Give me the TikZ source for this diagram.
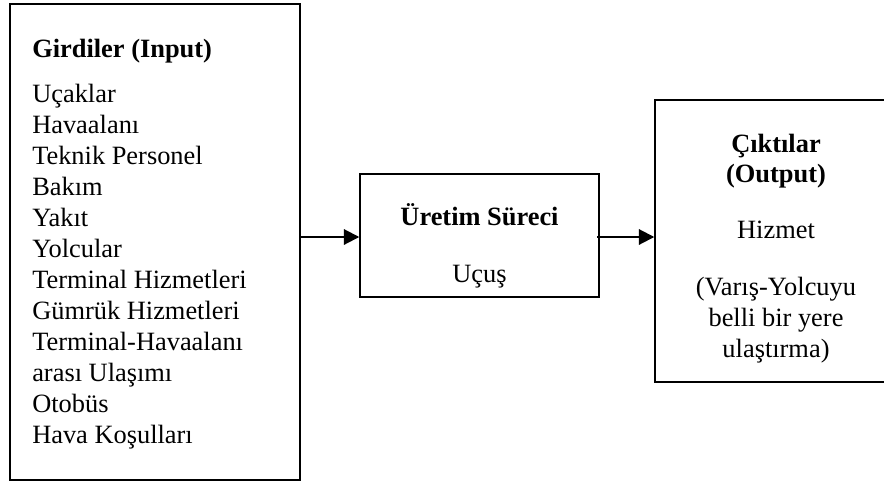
\documentclass[tikz,border=0pt]{standalone}
\usepackage{fontspec}
\setmainfont{Liberation Serif}
\usetikzlibrary{arrows.meta,fit}
\begin{document}
\begin{tikzpicture}[x=0.75pt,y=-0.75pt,
  box/.style={draw,line width=1.1pt,inner sep=0pt,fit={#1}},
  txt/.style={inner sep=0pt,font=\fontsize{19.8pt}{23.25pt}\selectfont},
  btxt/.style={txt,font=\fontsize{19.8pt}{23.25pt}\selectfont\bfseries},
  flow/.style={line width=1.5pt,-{Triangle[length=11.5pt,width=11.5pt]}}]
\useasboundingbox (0,0) rectangle (884,482);
\clip (0,0) rectangle (884,482);

% the three boxes: inputs, process, outputs (the last runs past the right edge)
\node[box={(10,4) (300,480)}] (in) {};
\node[box={(360,174) (599,297)}] (proc) {};
\node[box={(655,100) (905,382)}] (out) {};

% inputs
\node[btxt,anchor=base west] (inhead) at (32,57) {Girdiler (Input)};
\foreach \t [count=\i] in {Uçaklar,Havaalanı,Teknik Personel,Bakım,Yakıt,Yolcular,
  Terminal Hizmetleri,Gümrük Hizmetleri,Terminal-Havaalanı,arası Ulaşımı,Otobüs,
  Hava Koşulları}
  \node[txt,anchor=base west] (inl\i) at (32,{71+31*\i}) {\t};

% process
\node[btxt,anchor=base] (prochead) at (479.5,225) {Üretim Süreci};
\node[txt,anchor=base] (procl) at (479.5,282) {Uçuş};

% outputs
\node[btxt,anchor=base] (outhead1) at (776,152) {Çıktılar};
\node[btxt,anchor=base] (outhead2) at (776,182) {(Output)};
\node[txt,anchor=base] (outl1) at (776,238) {Hizmet};
\node[txt,anchor=base] (outl2) at (776,295) {(Varış-Yolcuyu};
\node[txt,anchor=base] (outl3) at (776,326) {belli bir yere};
\node[txt,anchor=base] (outl4) at (776,357) {ulaştırma)};

% flow arrows
\coordinate (a1s) at (in.east |- 0,237);
\coordinate (a1e) at (proc.west |- 0,237);
\coordinate (a2s) at ([xshift=-2]proc.east |- 0,237);
\coordinate (a2e) at (out.west |- 0,237);
\draw[flow] (a1s) -- (a1e);
\draw[flow] (a2s) -- (a2e);
\end{tikzpicture}
\end{document}
